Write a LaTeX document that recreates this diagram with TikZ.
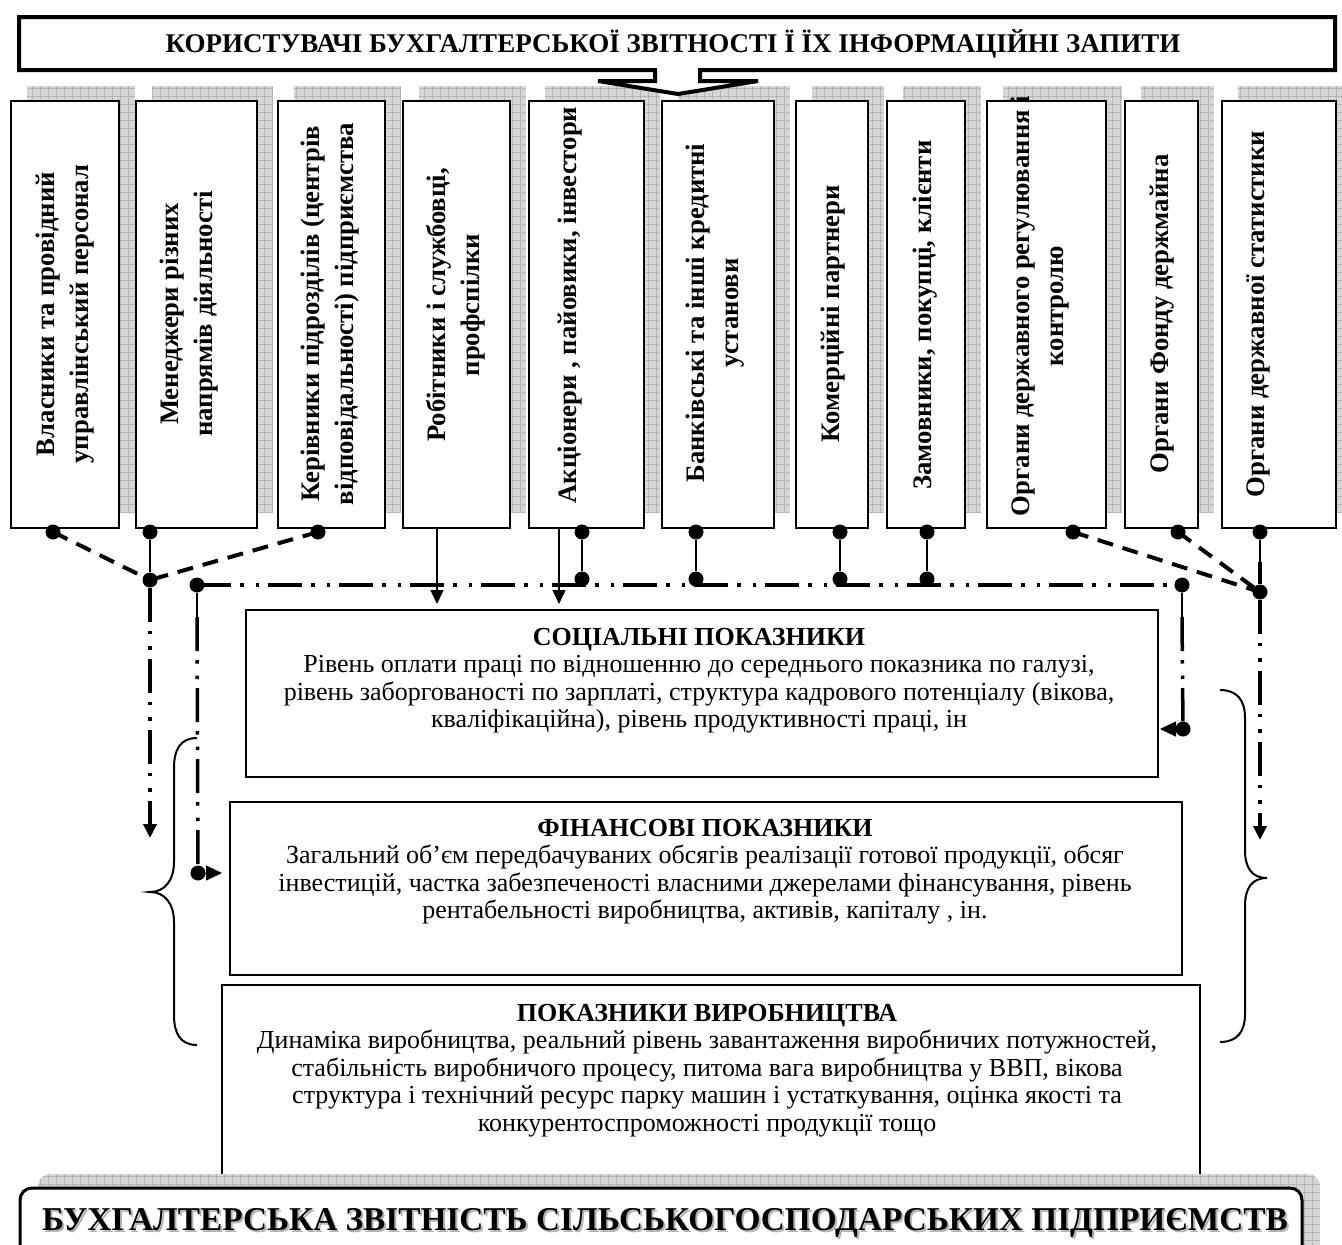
\documentclass[tikz,border=0pt]{standalone}
\usepackage{fontspec}
\setmainfont{Liberation Serif}
\usetikzlibrary{arrows.meta}
\begin{document}
\begin{tikzpicture}[x=1pt,y=-1pt,
  colbox/.style={draw, line width=2.5pt, fill=white, inner sep=0pt, minimum height=427pt},
  coltext/.style={rotate=90, align=center, font=\bfseries\fontsize{26.7}{34}\selectfont, inner sep=0pt},
  dot/.style={circle, fill=black, inner sep=0pt, minimum size=15pt},
  solidcon/.style={line width=2.5pt},
  dashcon/.style={line width=4pt, dash pattern=on 16pt off 10pt},
  ddline/.style={line width=3.5pt, dash pattern=on 34pt off 9pt on 3.5pt off 12pt on 3.5pt off 9pt},
  infobox/.style={draw, line width=1.5pt, inner sep=0pt},
  infotext/.style={align=center, font=\fontsize{26}{27.5}\selectfont, inner sep=0pt, anchor=north},
  headarrow/.style={-{Triangle[length=14pt,width=13pt]}},
  shadowfill/.style={fill=gray!32},
  shadowgrid/.style={draw=gray!58, line width=0.5pt},
]
\useasboundingbox (0,0) rectangle (1342,1245);
\fill[white] (0,0) rectangle (1342,1245);

% shadows of the user columns
\foreach \xa/\xb in {11/119,136/257,278/385,403/510,529/644,662/774,796/868,887/965,987/1106,1125/1198,1222/1336}{
  \fill[shadowfill] (\xa+16,86) rectangle (\xb+16,513);
  \draw[shadowgrid, step=8pt] (\xa+16,86) grid (\xb+16,513);
}

% user columns
\node[colbox, minimum width=108pt] (b1) at (65,314.5) {};
\node[colbox, minimum width=121pt] (b2) at (196.5,314.5) {};
\node[colbox, minimum width=107pt] (b3) at (331.5,314.5) {};
\node[colbox, minimum width=107pt] (b4) at (456.5,314.5) {};
\node[colbox, minimum width=115pt] (b5) at (586.5,314.5) {};
\node[colbox, minimum width=112pt] (b6) at (718,314.5) {};
\node[colbox, minimum width=72pt] (b7) at (832,314.5) {};
\node[colbox, minimum width=78pt] (b8) at (926,314.5) {};
\node[colbox, minimum width=119pt] (b9) at (1046.5,314.5) {};
\node[colbox, minimum width=73pt] (b10) at (1161.5,314.5) {};
\node[colbox, minimum width=114pt] (b11) at (1279,314.5) {};

\node[coltext] (t1) at (65,314) {Власники та провідний\\управлінський персонал};
\node[coltext] (t2) at (189,314) {Менеджери різних\\напрямів діяльності};
\node[coltext] (t3) at (330,314) {Керівники підрозділів (центрів\\відповідальності) підприємства};
\node[coltext] (t4) at (456,305) {Робітники і службовці,\\профспілки};
\node[coltext] (t5) at (570,305) {Акціонери , пайовики, інвестори};
\node[coltext] (t6) at (715,313) {Банківські та інші кредитні\\установи};
\node[coltext] (t7) at (833,314) {Комерційні партнери};
\node[coltext] (t8) at (925,315) {Замовники, покупці, клієнти};
\node[coltext] (t9) at (1040,306) {Органи державного регулювання і\\контролю};
\node[coltext] (t10) at (1162,314) {Органи Фонду держмайна};
\node[coltext] (t11) at (1258,314) {Органи державної статистики};

% title with arrow
\draw[line width=4pt, fill=white, line join=miter]
  (19,17) -- (1335,17) -- (1335,70) -- (700,70) -- (700,81) -- (758,81) -- (678,94)
  -- (598,81) -- (655,81) -- (655,70) -- (19,70) -- cycle;
\node[font=\bfseries\fontsize{27}{30}\selectfont, inner sep=0pt] (title) at (673,44)
  {КОРИСТУВАЧІ БУХГАЛТЕРСЬКОЇ ЗВІТНОСТІ Ї ЇХ ІНФОРМАЦІЙНІ ЗАПИТИ};

% indicator boxes
\node[infobox, minimum width=912pt, minimum height=167pt] (soc) at (702,693.5) {};
\node[infobox, minimum width=952pt, minimum height=173pt] (fin) at (706,888.5) {};
\node[infobox, minimum width=978pt, minimum height=190pt] (prod) at (711,1080) {};

\node[infotext] (soctext) at (699,628) {\textbf{СОЦІАЛЬНІ ПОКАЗНИКИ}\\
Рівень оплати праці по відношенню до середнього показника по галузі,\\
рівень заборгованості по зарплаті, структура кадрового потенціалу (вікова,\\
кваліфікаційна), рівень продуктивності праці, ін};
\node[infotext] (fintext) at (705,819) {\textbf{ФІНАНСОВІ ПОКАЗНИКИ}\\
Загальний об’єм передбачуваних обсягів реалізації готової продукції, обсяг\\
інвестицій, частка забезпеченості власними джерелами фінансування, рівень\\
рентабельності виробництва, активів, капіталу , ін.};
\node[infotext] (prodtext) at (707,1004) {\textbf{ПОКАЗНИКИ ВИРОБНИЦТВА}\\
Динаміка виробництва, реальний рівень завантаження виробничих потужностей,\\
стабільність виробничого процесу, питома вага виробництва у ВВП, вікова\\
структура і технічний ресурс парку машин і устаткування, оцінка якості та\\
конкурентоспроможності продукції тощо};

% bottom box
\fill[shadowfill, rounded corners=12pt] (38,1174) rectangle (1320,1280);
\begin{scope}
  \clip[rounded corners=12pt] (38,1174) rectangle (1320,1280);
  \draw[shadowgrid, step=8pt] (38,1174) grid (1320,1280);
\end{scope}
\draw[line width=3pt, fill=white, rounded corners=12pt] (20,1188) rectangle (1302,1290);
\node[font=\bfseries\fontsize{33.3}{38}\selectfont, text=gray!60, inner sep=0pt] (bottomshadow) at (667,1225)
  {БУХГАЛТЕРСЬКА ЗВІТНІСТЬ СІЛЬСЬКОГОСПОДАРСЬКИХ ПІДПРИЄМСТВ};
\node[font=\bfseries\fontsize{33.3}{38}\selectfont, inner sep=0pt] (bottomtitle) at (665,1223)
  {БУХГАЛТЕРСЬКА ЗВІТНІСТЬ СІЛЬСЬКОГОСПОДАРСЬКИХ ПІДПРИЄМСТВ};

% braces
\draw[line width=2pt] (197,738) .. controls (180,738) and (174,750) .. (174,768) -- (174,862)
  .. controls (174,880) and (165,892) .. (150,892) .. controls (165,892) and (174,904) .. (174,922)
  -- (174,1015) .. controls (174,1033) and (180,1045) .. (197,1045);
\draw[line width=2pt] (1220,690) .. controls (1237,690) and (1245,700) .. (1245,718) -- (1245,850)
  .. controls (1245,868) and (1252,878) .. (1267,878) .. controls (1252,878) and (1245,888) .. (1245,906)
  -- (1245,1014) .. controls (1245,1032) and (1237,1042) .. (1220,1042);

% connectors
\coordinate (a4s) at (437,529);
\coordinate (a4e) at (437,604);
\coordinate (a5s) at (559,529);
\coordinate (a5e) at (559,604);
\coordinate (cLm) at (197,617);
\coordinate (cRm) at (1182,617);
\coordinate (d11m) at (1260,562);
\coordinate (leftend) at (150,838);
\coordinate (rightend) at (1260,840);
\coordinate (fintip) at (222,873);
\coordinate (soctip) at (1160,729);

\draw[dashcon] (53,532) -- (150,580);
\draw[dashcon] (318,532) -- (150,580);
\draw[dashcon] (1073,532) -- (1260,592);
\draw[dashcon] (1178,532) -- (1260,592);

\node[dot] (d1) at (53,532) {};
\node[dot] (d2) at (150,532) {};
\node[dot] (d3) at (318,532) {};
\node[dot] (d5) at (582,532) {};
\node[dot] (d6) at (696,532) {};
\node[dot] (d7) at (840,532) {};
\node[dot] (d8) at (927,532) {};
\node[dot] (d9) at (1073,532) {};
\node[dot] (d10) at (1178,532) {};
\node[dot] (d11) at (1260,532) {};

\node[dot] (c0) at (150,580) {};
\node[dot] (cL) at (197,585) {};
\node[dot] (c5) at (582,579) {};
\node[dot] (c6) at (696,579) {};
\node[dot] (c7) at (840,579) {};
\node[dot] (c8) at (927,579) {};
\node[dot] (cR) at (1182,585) {};
\node[dot] (cRR) at (1260,592) {};
\node[dot] (dF) at (198,873) {};
\node[dot] (dS) at (1183,729) {};

\draw[solidcon] (d2) -- (c0);
\draw[solidcon] (d5) -- (c5);
\draw[solidcon] (d6) -- (c6);
\draw[solidcon] (d7) -- (c7);
\draw[solidcon] (d8) -- (c8);
\draw[solidcon] (d11) -- (d11m);
\draw[solidcon] (cL) -- (cLm);
\draw[solidcon] (cR) -- (cRm);

\draw[line width=1.5pt, headarrow] (a4s) -- (a4e);
\draw[line width=1.5pt, headarrow] (a5s) -- (a5e);

\draw[ddline, line width=4pt] (cL.center) -- (cR.center);
\draw[ddline] (d11m) -- (cRR);
\draw[ddline, headarrow] (c0) -- (leftend);
\draw[ddline, headarrow] (cRR) -- (rightend);
\draw[ddline] (cLm) -- (dF);
\draw[ddline] (cRm) -- (dS);
\draw[line width=1pt, -{Triangle[length=16pt,width=15pt]}] (dF.center) -- (fintip);
\draw[line width=1pt, -{Triangle[length=16pt,width=15pt]}] (dS.center) -- (soctip);
\end{tikzpicture}
\end{document}
